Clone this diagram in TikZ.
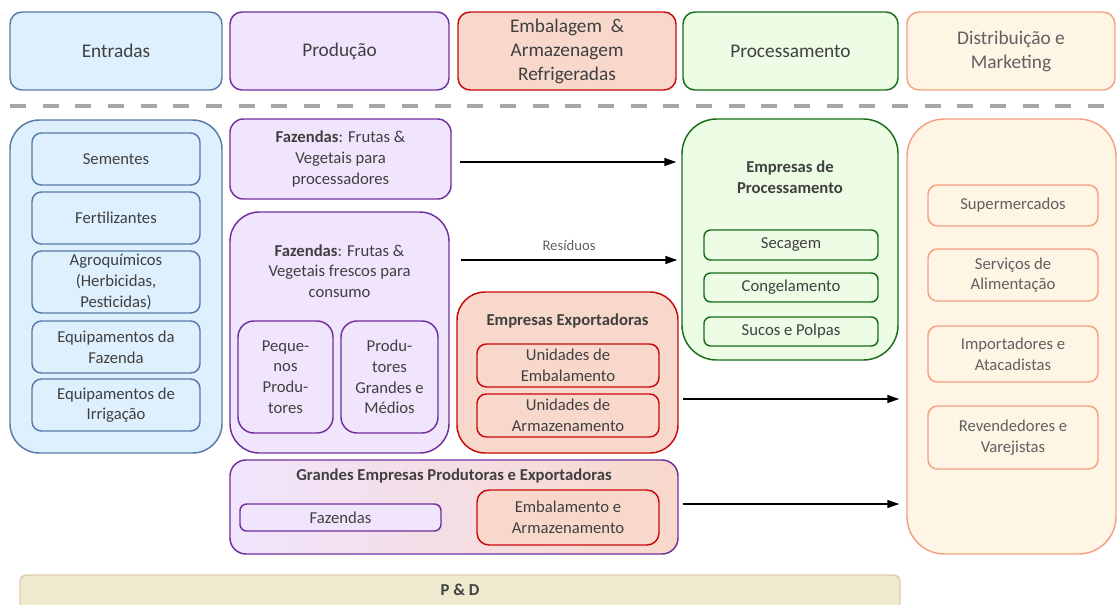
\documentclass[tikz,border=0pt]{standalone}
\usepackage{fontspec}
\setmainfont{Carlito}
\usetikzlibrary{arrows.meta}
\usetikzlibrary{calc}
\usepackage{xcolor}

\definecolor{entFill}{RGB}{222,240,253}
\definecolor{entLine}{RGB}{88,122,168}
\definecolor{prodFill}{RGB}{241,228,253}
\definecolor{prodLine}{RGB}{112,48,160}
\definecolor{embFill}{RGB}{248,216,203}
\definecolor{embLine}{RGB}{200,10,10}
\definecolor{procFill}{RGB}{236,252,229}
\definecolor{procLine}{RGB}{22,110,22}
\definecolor{distFill}{RGB}{254,245,228}
\definecolor{distLine}{RGB}{245,160,130}
\definecolor{pdFill}{RGB}{239,233,208}
\definecolor{pdLine}{RGB}{220,205,175}
\definecolor{txtDark}{RGB}{64,64,64}
\definecolor{txtGray}{RGB}{96,96,96}
\definecolor{sepGray}{RGB}{166,166,166}

\newcommand\hdfont{\fontsize{14.5}{18}\selectfont}
\newcommand\bdfont{\fontsize{12.5}{15.5}\selectfont}
\newcommand\smfont{\fontsize{11}{13}\selectfont}

\tikzset{
  box/.style={draw, rounded corners=#1, line width=1.1pt, align=center, inner sep=0pt, text=txtDark, font=\bdfont},
  box/.default=7pt,
  sz/.style 2 args={minimum width=#1*0.75pt, minimum height=#2*0.75pt},
  ent/.style={box=#1, fill=entFill, draw=entLine},
  ent/.default=7pt,
  prod/.style={box=#1, fill=prodFill, draw=prodLine},
  prod/.default=7pt,
  emb/.style={box=#1, fill=embFill, draw=embLine},
  emb/.default=7pt,
  proc/.style={box=#1, fill=procFill, draw=procLine},
  proc/.default=5pt,
  dist/.style={box=#1, fill=distFill, draw=distLine, text=txtGray},
  dist/.default=7pt,
  title/.style={align=center, inner sep=0pt, text=txtDark, font=\bdfont\bfseries},
  flow/.style={line width=1.1pt, -{Triangle[length=9pt,width=6pt]}},
  sepline/.style={draw=sepGray, line width=3.3pt, dash pattern=on 12pt off 12.5pt}
}

\begin{document}
\begin{tikzpicture}[x=0.75pt,y=0.75pt,yscale=-1,xscale=1]
\useasboundingbox (0,0) rectangle (1117,604);

% Header row
\node[ent=9pt, sz={212}{78}, font=\hdfont] (hEnt) at (116,51) {Entradas};
\node[prod=9pt, sz={219}{78}, font=\hdfont] (hProd) at (339.5,51) {Produção};
\node[emb=9pt, sz={218}{78}, font=\hdfont] (hEmb) at (567,51) {Embalagem~~\&\\Armazenagem\\Refrigeradas};
\node[proc=9pt, sz={215}{78}, font=\hdfont] (hProc) at (790.5,51) {Processamento};
\node[dist=9pt, sz={208}{78}, font=\hdfont] (hDist) at (1011,51) {Distribuição e\\Marketing};

% Separator
\draw[sepline] (10,106) -- (1117,106);

% Entradas column
\node[ent=22pt, sz={212}{333}] (ent) at (116,286.5) {};
\node[ent, sz={168}{52}] (sementes) at (116,159) {Sementes};
\node[ent, sz={168}{52}] (fertil) at (116,218) {Fertilizantes};
\node[ent, sz={168}{62}] (agroq) at (116,282) {Agroquímicos\\(Herbicidas,\\Pesticidas)};
\node[ent, sz={168}{52}] (eqFaz) at (116,347) {Equipamentos da\\Fazenda};
\node[ent, sz={168}{52}] (eqIrr) at (116,405) {Equipamentos de\\Irrigação};

% Producao column
\node[prod=10pt, sz={221}{80}] (fazProc) at (340.5,159) {\textbf{Fazendas}: Frutas \&\\Vegetais para\\processadores};
\node[prod=22pt, sz={219}{241}] (fazCons) at (339.5,332.5) {};
\node[title, font=\bdfont] (fazConsT) at (339.5,271) {\textbf{Fazendas}: Frutas \&\\Vegetais frescos para\\consumo};
\node[prod=12pt, sz={95}{112}] (pequenos) at (285.5,377) {Peque-\\nos\\Produ-\\tores};
\node[prod=12pt, sz={97}{112}] (medios) at (389.5,377) {Produ-\\tores\\Grandes e\\Médios};

% Exportadoras
\node[emb=21pt, sz={221}{161}] (export) at (567.5,372.5) {};
\node[title] (exportT) at (567.5,321) {Empresas Exportadoras};
\node[emb, sz={182}{43}] (unEmb) at (568,365.5) {Unidades de\\Embalamento};
\node[emb, sz={182}{43}] (unArm) at (568,415.5) {Unidades de\\Armazenamento};

% Processamento
\node[proc=26pt, sz={216}{241}] (proc) at (790,239.5) {};
\node[title] (procT) at (790,177) {Empresas de\\Processamento};
\node[proc, sz={174}{30}] (secagem) at (791,245) {Secagem};
\node[proc, sz={174}{29}] (congel) at (791,287.5) {Congelamento};
\node[proc, sz={174}{29}] (sucos) at (791,331.5) {Sucos e Polpas};

% Distribuicao
\node[dist=28pt, sz={209}{435}] (dist) at (1011.5,336.5) {};
\node[dist, sz={170}{41}] (super) at (1013,205.5) {Supermercados};
\node[dist, sz={170}{52}] (servicos) at (1013,275) {Serviços de\\Alimentação};
\node[dist, sz={170}{56}] (import) at (1013,354) {Importadores e\\Atacadistas};
\node[dist, sz={170}{63}] (revend) at (1013,437.5) {Revendedores e\\Varejistas};

% Grandes empresas
\node[box=12pt, sz={448}{94}, draw=prodLine, left color=prodFill, right color=embFill] (gEmp) at (454,507) {};
\node[title] (gEmpT) at (454,476) {Grandes Empresas Produtoras e Exportadoras};
\node[prod=5pt, sz={201}{27}] (gFaz) at (340.5,517.5) {Fazendas};
\node[emb=9pt, sz={182}{55}] (gEmb) at (568,517.5) {Embalamento e\\Armazenamento};

% P&D
\node[box=5pt, sz={880}{60}, fill=pdFill, draw=pdLine] (pd) at (460,605) {};
\node[title] (pdT) at (460,590) {P \& D};

% Flows
\draw[flow] ($(fazProc.east)+(8,3)$) -- ($(fazProc.east -| proc.west)+(-5,3)$);
\draw[flow] ($(fazCons.east)+(11,-72.5)$) -- ($(fazCons.east -| proc.west)+(-4,-72.5)$) node[midway, above=3pt, text=txtGray, font=\smfont] (residuos) {Resíduos};
\draw[flow] ($(export.east)+(4,26.5)$) -- ($(export.east -| dist.west)+(-7,26.5)$);
\draw[flow] ($(gEmp.east)+(4,-3)$) -- ($(gEmp.east -| dist.west)+(-7,-3)$);

\end{tikzpicture}
\end{document}
